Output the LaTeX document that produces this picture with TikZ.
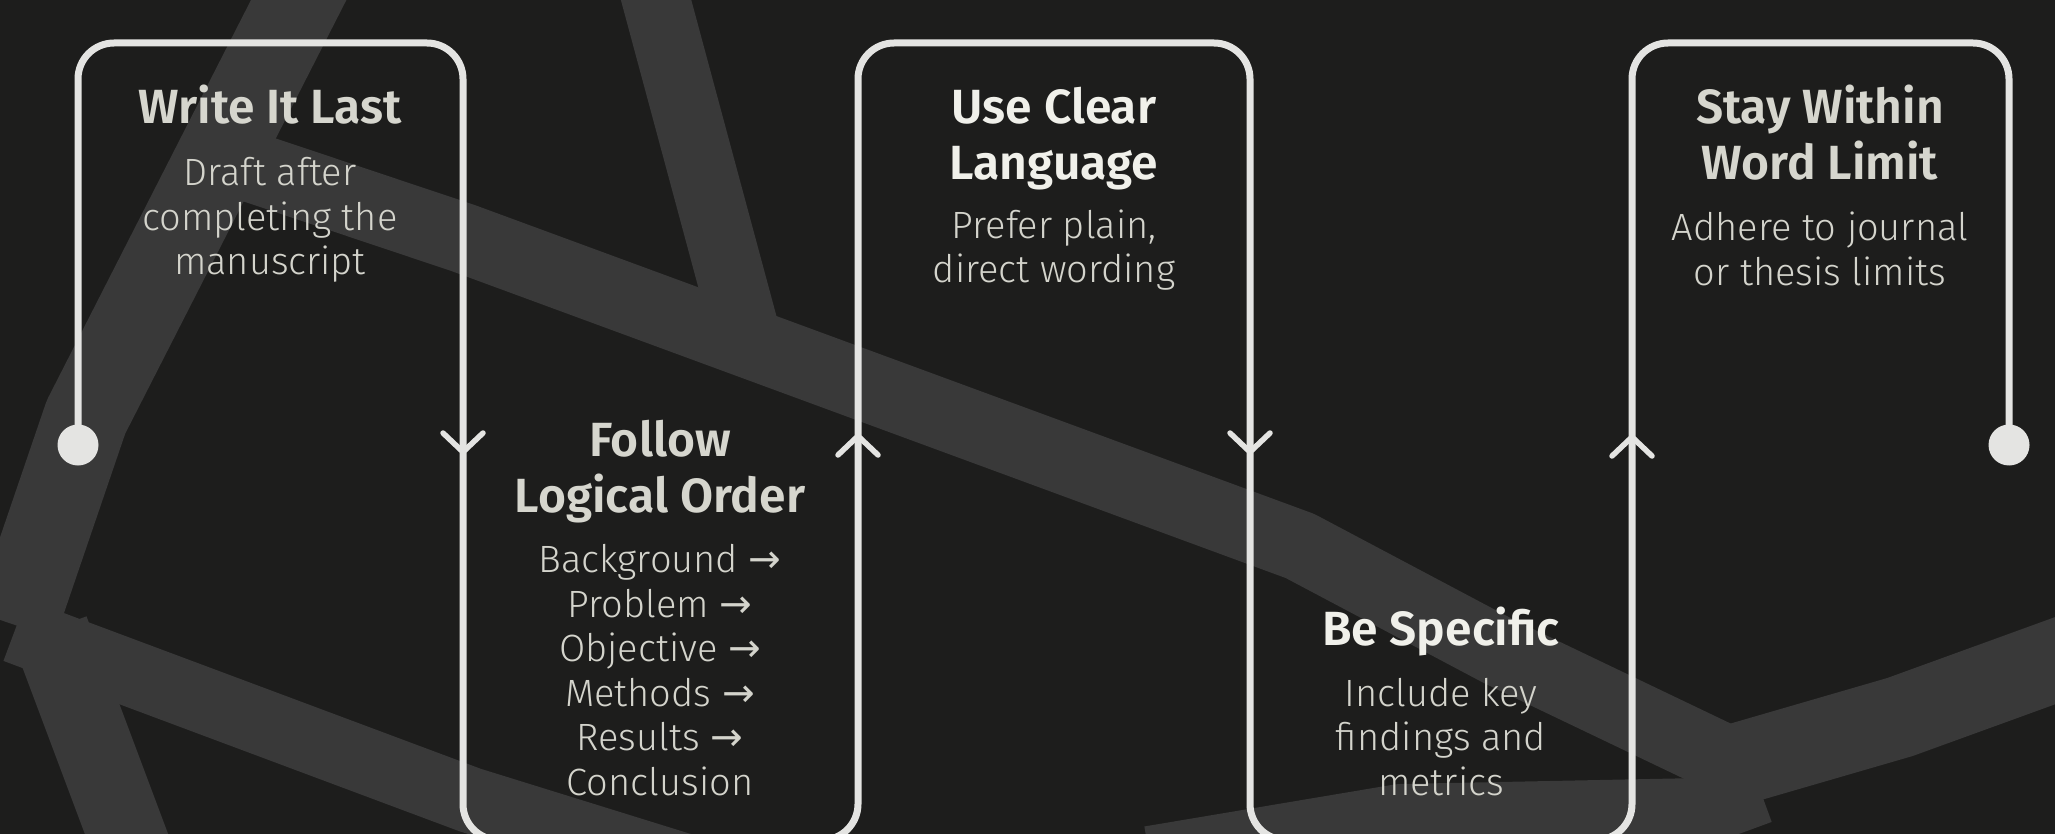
\documentclass[tikz,border=0pt]{standalone}
\usepackage{fontspec}
\setmainfont{Fira Sans}
\newfontfamily\titlefont{Fira Sans SemiBold}
\newfontfamily\bodyfont{Fira Sans Light}
\newfontfamily\arrowfont{DejaVu Sans}
\definecolor{bg}{HTML}{1D1D1C}
\definecolor{stripe}{HTML}{393939}
\definecolor{flowc}{HTML}{E4E4E2}
\definecolor{titleA}{HTML}{D6D6CE}
\definecolor{titleB}{HTML}{F0F0EA}
\definecolor{bodyc}{HTML}{D4D4CC}
\newcommand{\ar}{{\arrowfont\fontsize{39}{44.5}\selectfont →}}
\tikzset{
  stripeline/.style={draw=stripe, line join=round, line cap=butt},
  flow/.style={draw=flowc, line width=7pt, rounded corners=36pt},
  chev/.style={draw=flowc, line width=5.5pt, line cap=round, line join=miter},
  enddot/.style={circle, fill=flowc, minimum size=41pt, inner sep=0pt},
  ttl/.style={font=\titlefont\fontsize{48}{56}\selectfont, align=center, anchor=base, inner sep=0pt},
  bdy/.style={font=\bodyfont\fontsize{38}{44.5}\selectfont, align=center, anchor=base, inner sep=0pt, text=bodyc}
}
\begin{document}
\begin{tikzpicture}[x=1pt,y=-1pt]
\useasboundingbox (0,0) rectangle (2055,834);
\fill[bg] (0,0) rectangle (2055,834);
\begin{scope}
\clip (0,0) rectangle (2055,834);
% background stripes
\draw[stripeline, line width=85pt] (314,-30) -- (86,417) -- (15,625);
\draw[stripeline, line width=66pt] (15,630) -- (470,800) -- (760,890);
\draw[stripeline, line width=78pt] (50,630) -- (140,870);
\draw[stripeline, line width=70pt] (215,155) -- (463,238) -- (1300,546) -- (1500,652) -- (1730,762);
\draw[stripeline, line width=68pt] (648,-30) -- (745,330);
\draw[stripeline, line width=68pt] (1150,860) -- (1400,818) -- (1700,812) -- (1760,790);
\draw[stripeline, line width=82pt] (1690,778) -- (1900,717) -- (2090,648);
% flow path
\node[enddot] (d1) at (78,445) {};
\node[enddot] (d2) at (2009,445) {};
\coordinate (c1) at (78,43);
\coordinate (c2) at (463,43);
\coordinate (c3) at (463,840);
\coordinate (c4) at (858,840);
\coordinate (c5) at (858,43);
\coordinate (c6) at (1250,43);
\coordinate (c7) at (1250,840);
\coordinate (c8) at (1632,840);
\coordinate (c9) at (1632,43);
\coordinate (c10) at (2009,43);
\draw[flow] (d1.center) -- (c1) -- (c2) -- (c3) -- (c4) -- (c5) -- (c6) -- (c7) -- (c8) -- (c9) -- (c10) -- (d2.center);
% chevrons
\draw[chev] (443,433) -- (463,452) -- (483,433);
\draw[chev] (838,455) -- (858,436) -- (878,455);
\draw[chev] (1230,433) -- (1250,452) -- (1270,433);
\draw[chev] (1612,456) -- (1632,437) -- (1652,456);
\end{scope}
% texts (anchor = baseline of the last line)
\node[ttl, text=titleA] (t1) at (270,124) {Write It Last};
\node[bdy] (b1) at (270,275) {Draft after\\completing the\\manuscript};
\node[ttl, text=titleA] (t2) at (660,512) {Follow\\Logical Order};
\node[bdy] (b2) at (660,795) {Background \ar\\Problem \ar\\Objective \ar\\Methods \ar\\Results \ar\\Conclusion};
\node[ttl, text=titleB] (t3) at (1054,180) {Use Clear\\Language};
\node[bdy] (b3) at (1054,283) {Prefer plain,\\direct wording};
\node[ttl, text=titleB] (t4) at (1441,645) {Be Specific};
\node[bdy] (b4) at (1441,795) {Include key\\findings and\\metrics};
\node[ttl, text=titleA] (t5) at (1820,180) {Stay Within\\Word Limit};
\node[bdy] (b5) at (1820,285) {Adhere to journal\\or thesis limits};
\end{tikzpicture}
\end{document}
